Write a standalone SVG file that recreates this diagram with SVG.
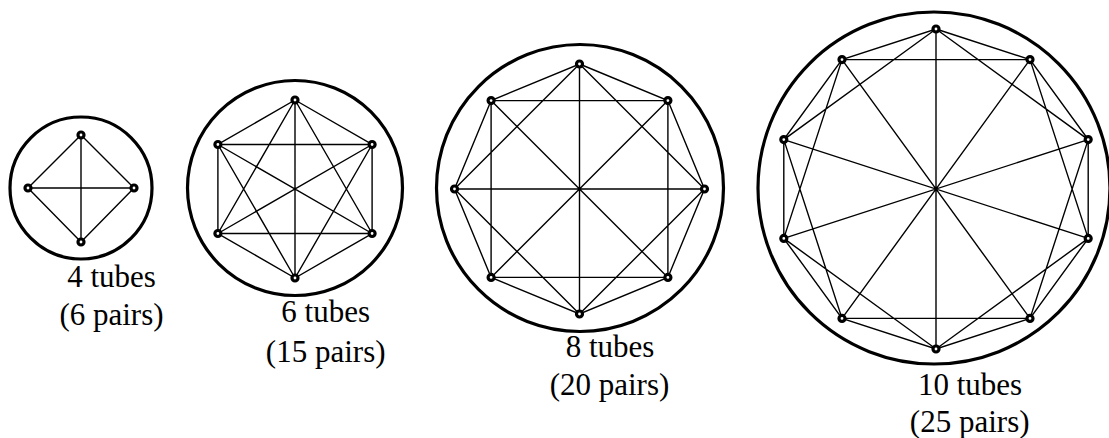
<svg xmlns="http://www.w3.org/2000/svg" width="1109" height="438" viewBox="0 0 1109 438">
<style>
.ring{fill:none;stroke:#000;stroke-width:3.2}
.edge{fill:none;stroke:#000;stroke-width:1.4}
.tube{fill:#fff;stroke:#000;stroke-width:3.2}
.lbl{font-size:31px;fill:#000;text-anchor:middle}
</style>
<rect width="1109" height="438" fill="#fff"/>

<g id="bundle4">
  <circle class="ring" cx="81" cy="188" r="71"/>
  <g id="connectors4" class="edge">
    <path d="M81,135L134,188L81,242L28,188Z M81,135L81,242 M28,188L134,188"/>
  </g>
  <g id="t4-0"><circle class="tube" cx="81" cy="135" r="3"/></g>
  <g id="t4-1"><circle class="tube" cx="134" cy="188" r="3"/></g>
  <g id="t4-2"><circle class="tube" cx="81" cy="242" r="3"/></g>
  <g id="t4-3"><circle class="tube" cx="28" cy="188" r="3"/></g>
  <text class="lbl" font-family="'Liberation Serif', 'Times New Roman', serif" x="111.5" y="287">4 tubes</text>
  <text class="lbl" font-family="'Liberation Serif', 'Times New Roman', serif" x="111.5" y="325">(6 pairs)</text>
</g>

<g id="bundle6">
  <circle class="ring" cx="295" cy="188" r="107.5"/>
  <g id="connectors6" class="edge">
    <path d="M295,100L372.1,144.5L372.1,233.5L295,278L217.9,233.5L217.9,144.5Z
      M295,100L372.1,233.5 M295,100L295,278 M295,100L217.9,233.5
      M372.1,144.5L295,278 M372.1,144.5L217.9,233.5 M372.1,144.5L217.9,144.5
      M372.1,233.5L217.9,233.5 M372.1,233.5L217.9,144.5
      M295,278L217.9,144.5"/>
  </g>
  <g id="t6-0"><circle class="tube" cx="295" cy="100" r="3"/></g>
  <g id="t6-1"><circle class="tube" cx="372.1" cy="144.5" r="3"/></g>
  <g id="t6-2"><circle class="tube" cx="372.1" cy="233.5" r="3"/></g>
  <g id="t6-3"><circle class="tube" cx="295" cy="278" r="3"/></g>
  <g id="t6-4"><circle class="tube" cx="217.9" cy="233.5" r="3"/></g>
  <g id="t6-5"><circle class="tube" cx="217.9" cy="144.5" r="3"/></g>
  <text class="lbl" font-family="'Liberation Serif', 'Times New Roman', serif" x="325.7" y="322">6 tubes</text>
  <text class="lbl" font-family="'Liberation Serif', 'Times New Roman', serif" x="325.7" y="361.5">(15 pairs)</text>
</g>

<g id="bundle8">
  <circle class="ring" cx="580" cy="188" r="143.5"/>
  <g id="connectors8" class="edge">
    <path d="M579.5,64L667.9,100.6L704.5,189L667.9,277.4L579.5,314L491.1,277.4L454.5,189L491.1,100.6Z
      M579.5,64L704.5,189L579.5,314L454.5,189Z
      M667.9,100.6L667.9,277.4L491.1,277.4L491.1,100.6Z
      M579.5,64L579.5,314 M667.9,100.6L491.1,277.4 M704.5,189L454.5,189 M667.9,277.4L491.1,100.6"/>
  </g>
  <g id="t8-0"><circle class="tube" cx="579.5" cy="64" r="3"/></g>
  <g id="t8-1"><circle class="tube" cx="667.9" cy="100.6" r="3"/></g>
  <g id="t8-2"><circle class="tube" cx="704.5" cy="189" r="3"/></g>
  <g id="t8-3"><circle class="tube" cx="667.9" cy="277.4" r="3"/></g>
  <g id="t8-4"><circle class="tube" cx="579.5" cy="314" r="3"/></g>
  <g id="t8-5"><circle class="tube" cx="491.1" cy="277.4" r="3"/></g>
  <g id="t8-6"><circle class="tube" cx="454.5" cy="189" r="3"/></g>
  <g id="t8-7"><circle class="tube" cx="491.1" cy="100.6" r="3"/></g>
  <text class="lbl" font-family="'Liberation Serif', 'Times New Roman', serif" x="610" y="356.7">8 tubes</text>
  <text class="lbl" font-family="'Liberation Serif', 'Times New Roman', serif" x="609.5" y="395">(20 pairs)</text>
</g>

<g id="bundle10">
  <circle class="ring" cx="934" cy="188" r="176"/>
  <g id="connectors10" class="edge">
    <path d="M936,29L1030,59.6L1088.2,139.6L1088.2,238.4L1030,318.4L936,349L842,318.4L783.8,238.4L783.8,139.6L842,59.6Z
      M936,29L1088.2,139.6L1030,318.4L842,318.4L783.8,139.6Z
      M1030,59.6L1088.2,238.4L936,349L783.8,238.4L842,59.6Z
      M936,29L936,349 M1030,59.6L842,318.4 M1088.2,139.6L783.8,238.4 M1088.2,238.4L783.8,139.6 M1030,318.4L842,59.6"/>
  </g>
  <g id="t10-0"><circle class="tube" cx="936" cy="29" r="3"/></g>
  <g id="t10-1"><circle class="tube" cx="1030" cy="59.6" r="3"/></g>
  <g id="t10-2"><circle class="tube" cx="1088.2" cy="139.6" r="3"/></g>
  <g id="t10-3"><circle class="tube" cx="1088.2" cy="238.4" r="3"/></g>
  <g id="t10-4"><circle class="tube" cx="1030" cy="318.4" r="3"/></g>
  <g id="t10-5"><circle class="tube" cx="936" cy="349" r="3"/></g>
  <g id="t10-6"><circle class="tube" cx="842" cy="318.4" r="3"/></g>
  <g id="t10-7"><circle class="tube" cx="783.8" cy="238.4" r="3"/></g>
  <g id="t10-8"><circle class="tube" cx="783.8" cy="139.6" r="3"/></g>
  <g id="t10-9"><circle class="tube" cx="842" cy="59.6" r="3"/></g>
  <text class="lbl" font-family="'Liberation Serif', 'Times New Roman', serif" x="970" y="395">10 tubes</text>
  <text class="lbl" font-family="'Liberation Serif', 'Times New Roman', serif" x="969.7" y="432">(25 pairs)</text>
</g>
</svg>
